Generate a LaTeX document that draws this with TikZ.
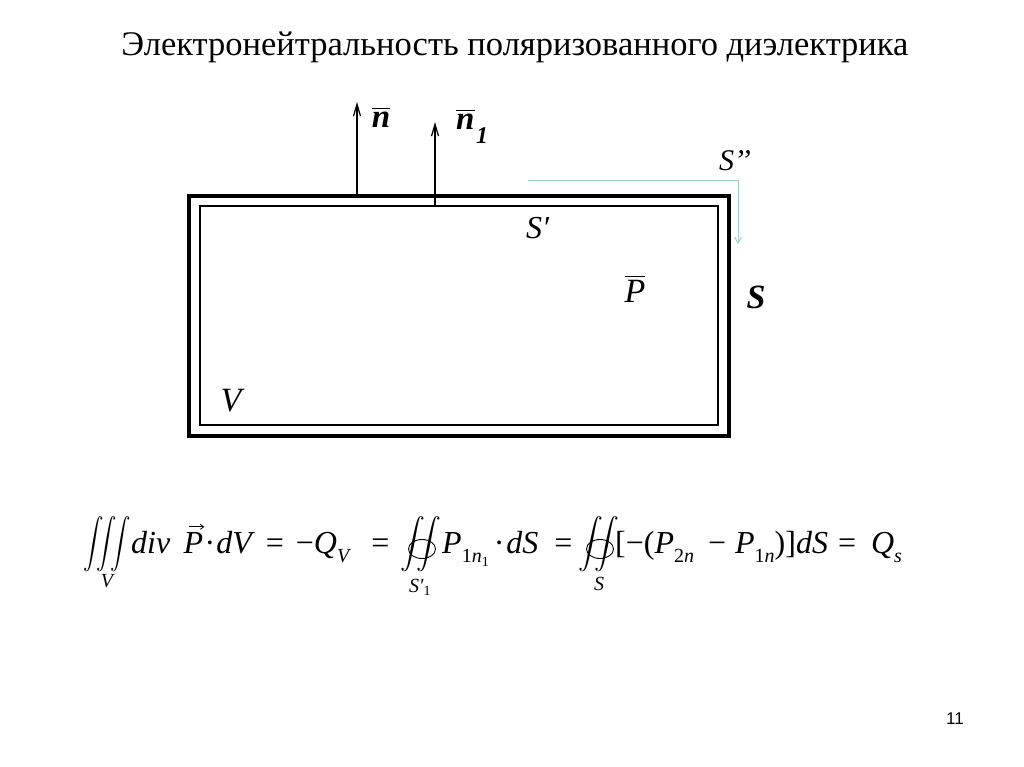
\documentclass[tikz,border=0pt]{standalone}
\usepackage{amsmath}
\usepackage{fontspec}
\setmainfont{Liberation Serif}
\newfontfamily\pagefont{Liberation Sans}
\usetikzlibrary{arrows.meta}
\definecolor{paleblue}{RGB}{160,205,208}
\newcommand\lo[1]{\raisebox{-0.3em}{\fontsize{20}{22}\selectfont #1}}
\newcommand\llo[1]{\raisebox{-0.2em}{\fontsize{14}{16}\selectfont\upshape #1}}
\tikzset{
  lbl/.style={inner sep=0pt, anchor=base, font=\fontsize{32}{36}\selectfont\itshape},
  vecarrow/.style={line width=1.2pt, -{Straight Barb[length=12pt,width=7pt]}},
  thickbox/.style={line width=4pt},
  thinbox/.style={line width=1.4pt},
  surfarrow/.style={paleblue, line width=1pt, -{Straight Barb[length=6pt,width=7pt]}},
  fpart/.style={inner sep=0pt, anchor=base west, font=\fontsize{32}{36}\selectfont},
  intsign/.style={inner sep=0pt, anchor=center, font=\fontsize{23.5}{28}\selectfont},
  limit/.style={inner sep=0pt, anchor=base, font=\fontsize{20}{24}\selectfont\itshape},
  loop/.style={line width=0.9pt},
  overvec/.style={line width=0.8pt, -{Straight Barb[length=3.5pt,width=5pt]}}
}
\begin{document}
\begin{tikzpicture}[x=1pt,y=-1pt]
\useasboundingbox (0,0) rectangle (1024,767);
% title
\node[inner sep=0pt, anchor=base, font=\fontsize{34.5}{40}\selectfont] (title) at (515,56) {Электронейтральность поляризованного диэлектрика};
% boxes
\draw[thickbox] (189,196) rectangle (729,436);
\draw[thinbox] (200,206) rectangle (718,425);
% normals
\coordinate (nbase) at (357,196);
\coordinate (ntip) at (357,102);
\coordinate (n1base) at (435,206);
\coordinate (n1tip) at (435,122);
\draw[vecarrow] (nbase) -- (ntip);
\draw[vecarrow] (n1base) -- (n1tip);
\node[lbl, font=\fontsize{33}{36}\selectfont\bfseries\itshape] (nlab) at (381,128) {$\overline{\mbox{\bfseries\itshape n}}$};
\node[lbl, anchor=base west, font=\fontsize{33}{36}\selectfont\bfseries\itshape] (n1lab) at (456,130) {$\overline{\mbox{\bfseries\itshape n}}$};
\node[lbl, anchor=base west, font=\fontsize{24}{28}\selectfont\bfseries\itshape] (n1sub) at (476,144) {1};
% S'' path
\coordinate (sstart) at (528,181);
\coordinate (send) at (738,244);
\draw[surfarrow] (sstart) -| (send);
\node[lbl, font=\fontsize{30}{34}\selectfont\itshape] (s2) at (735,171) {S’’};
\node[lbl, anchor=base west] (s1) at (526,239) {S′};
\node[lbl, font=\fontsize{34}{38}\selectfont\itshape] (p) at (635,302) {$\overline{\mbox{\itshape P}}$};
\node[lbl, font=\fontsize{34}{38}\selectfont\bfseries\itshape] (s) at (756,308) {S};
\node[lbl, font=\fontsize{34}{38}\selectfont\itshape] (v) at (231,411) {V};
% formula
\node[intsign] (int3) at (107,544) {\scalebox{0.82}[1]{$\displaystyle\iiint$}};
\node[limit] (limV) at (107,587) {V};
\node[fpart] (fdiv) at (131,553) {\itshape div};
\node[fpart] (fP) at ([xshift=13pt]fdiv.base east) {\itshape P};
\draw[overvec] ([xshift=6pt,yshift=5pt]fP.north west) -- ([xshift=1pt,yshift=5pt]fP.north east);
\node[fpart] (f1) at ([xshift=1pt]fP.base east) {·\hspace{1pt}{\itshape dV}\hspace{14pt}=\hspace{12pt}−{\itshape Q\lo{V}}\hspace{22pt}=};
\node[intsign] (int2a) at (421,544) {$\displaystyle\iint$};
\draw[loop] (422,549) ellipse (13.5 and 9.5);
\node[limit, anchor=base west] (limS1) at (409,592) {S′\textsubscript{\upshape 1}};
\node[fpart] (f2) at (442,553) {{\itshape P}\lo{1\itshape n\llo{1}}\hspace{5pt}·\hspace{2pt}{\itshape dS}\hspace{16pt}=};
\node[intsign] (int2b) at (599,544) {$\displaystyle\iint$};
\draw[loop] (600,549) ellipse (13.5 and 9.5);
\node[limit] (limS) at (599,590) {S};
\node[fpart] (f3) at (615,553) {[−({\itshape P}\lo{2\itshape n}\hspace{14pt}−\hspace{9pt}{\itshape P}\lo{1\itshape n})]{\itshape dS}\hspace{10pt}=\hspace{15pt}{\itshape Q\lo{s}}};
% page number
\node[inner sep=0pt, anchor=base, font=\pagefont\fontsize{17}{20}\selectfont] (page) at (955,724) {11};
\end{tikzpicture}
\end{document}
